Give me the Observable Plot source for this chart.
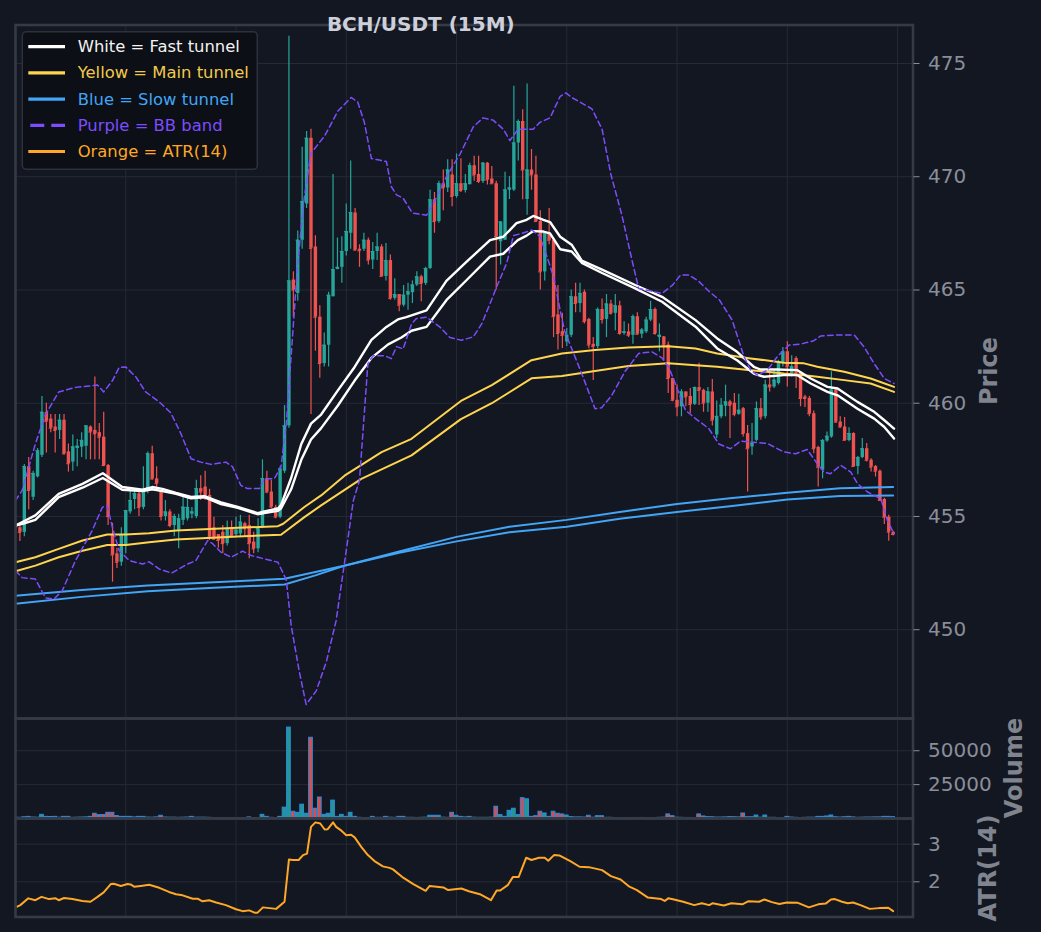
<!DOCTYPE html>
<html><head><meta charset="utf-8">
<script src="https://cdn.jsdelivr.net/npm/d3@7"></script>
<script src="https://cdn.jsdelivr.net/npm/@observablehq/plot@0.6"></script>
<style>
html,body{margin:0;padding:0;background:#131722;}
#wrap{position:relative;width:1041px;height:932px;background:#131722;overflow:hidden;font-family:"DejaVu Sans",sans-serif;}
#wrap svg{position:absolute;left:0;}
</style></head>
<body><div id="wrap"></div>
<script>
// ---------------- DATA ----------------
const open = [
454.6,454.5,454.3,457.2,455.85,456.75,457.7,459.6,459.3,458.95,
458.8,459.25,457.85,457.4,458.0,458.06,458.1,458.95,458.8,458.7,
458.5,457.25,454.2,453.35,452.98,453.7,455.2,455.75,456.0,455.4,
456.15,457.77,456.66,456.1,455.0,455.2,454.6,454.4,454.83,454.9,
455.1,455.0,456.23,456.3,455.93,454.5,454.2,454.3,453.8,454.46,
454.2,454.23,454.68,454.6,453.87,453.57,454.53,456.67,456.08,455.4,
454.97,457.0,459.0,465.44,464.85,467.2,468.8,471.7,466.9,463.8,
461.75,462.56,464.7,465.9,466.0,466.7,467.5,468.4,466.8,466.8,
467.2,466.32,466.7,466.9,465.6,466.3,464.63,464.8,464.33,464.77,
464.88,465.22,465.58,465.29,465.95,468.98,468.02,469.69,469.5,470.08,
469.13,469.69,469.39,469.65,470.48,470.1,469.79,470.6,469.9,469.69,
467.13,467.2,469.4,469.42,471.49,472.44,469.0,470.3,470.08,468.02,
465.8,467.5,467.2,463.9,463.16,462.7,463.0,464.7,464.4,464.9,
463.7,462.6,462.5,464.14,463.7,464.38,463.97,464.3,463.08,463.15,
463.0,463.82,463.05,463.15,463.67,464.14,462.9,462.93,462.57,461.09,
460.13,459.84,460.5,460.3,459.95,460.69,460.57,460.0,460.5,458.6,
459.4,459.87,460.06,460.0,459.51,459.76,458.66,458.07,458.36,459.76,
459.4,460.8,460.72,460.87,461.76,462.27,461.31,461.98,461.31,460.28,
460.21,459.54,458.04,457.04,458.33,458.51,460.58,459.17,458.95,458.36,
458.66,457.21,457.6,457.99,457.48,457.21,457.0,455.75,454.97,454.3
];
const high = [
454.8,454.6,457.3,457.6,457.0,458.0,460.3,460.0,459.5,459.5,
459.5,459.5,458.2,458.6,458.4,458.7,459.0,459.0,461.16,459.1,
459.6,457.3,454.7,453.6,454.5,455.26,456.2,456.2,456.1,457.2,
457.85,458.1,457.2,456.15,455.7,455.3,455.1,455.1,455.86,455.86,
455.4,456.6,456.8,457.0,456.2,454.97,454.2,454.6,454.8,454.8,
454.97,455.05,454.75,455.05,454.3,454.9,457.5,457.0,456.6,455.5,
457.2,459.9,476.2,465.8,467.6,471.3,472.0,472.1,467.4,464.3,
463.1,464.9,470.1,467.3,467.35,468.8,470.7,468.6,467.0,467.5,
467.3,467.1,467.5,467.0,467.05,466.55,465.5,464.8,465.2,465.3,
465.4,465.8,465.65,466.0,469.4,469.3,469.8,470.3,470.75,470.75,
471.0,470.8,470.1,470.6,470.9,470.9,470.63,470.63,470.45,469.8,
468.0,470.2,470.0,474.0,472.5,472.96,474.1,471.2,470.9,468.5,
467.5,468.6,467.3,465.2,463.97,463.3,465.0,465.3,465.3,465.0,
463.75,462.9,464.2,464.6,464.8,464.55,464.8,464.5,463.6,463.5,
463.9,464.0,463.3,463.8,464.5,464.2,463.5,462.95,462.7,461.1,
460.8,460.6,460.5,460.65,460.72,461.76,460.62,460.7,461.05,460.1,
460.21,460.8,460.13,460.43,460.4,459.81,459.02,459.1,460.06,460.21,
461.02,461.31,461.46,461.9,462.46,462.71,462.1,462.05,461.4,460.35,
460.3,459.66,458.1,458.4,458.73,461.39,460.65,459.4,459.37,458.92,
458.7,457.65,458.44,458.22,457.55,457.25,457.05,455.8,455.05,454.35
];
const low = [
454.3,453.9,454.1,455.3,455.7,456.7,457.6,457.8,458.7,457.8,
458.4,457.7,456.96,457.0,457.2,457.6,457.5,457.5,457.5,457.5,
457.2,454.6,452.1,452.7,452.8,453.35,455.1,455.3,455.0,455.3,
456.0,456.6,456.1,454.8,454.8,454.5,454.1,453.57,454.6,454.8,
454.9,454.9,455.7,455.7,453.94,453.94,453.6,453.35,453.7,454.1,
454.1,454.1,454.1,453.13,453.35,453.4,454.46,456.0,455.35,454.9,
454.9,456.9,458.9,463.8,464.5,466.8,468.6,459.5,462.3,461.1,
461.6,461.6,464.7,465.9,465.3,466.5,466.8,466.7,466.0,466.7,
466.1,465.9,466.3,465.6,465.4,464.55,464.55,464.04,464.25,464.1,
464.4,465.15,464.48,465.2,465.9,467.5,467.95,468.5,469.3,468.68,
469.05,469.3,469.28,469.65,469.8,469.7,469.7,469.64,469.7,465.0,
466.1,467.2,469.0,469.35,470.7,468.98,468.3,469.4,468.0,465.0,
465.4,467.0,462.9,462.35,462.42,462.5,462.9,464.0,464.0,463.5,
462.4,461.0,462.4,463.5,462.9,463.9,463.2,463.0,463.0,462.9,
462.6,463.0,462.86,463.08,463.6,463.0,462.27,461.9,460.43,460.06,
459.4,459.4,459.84,459.55,459.9,459.9,459.6,459.6,459.0,458.44,
459.32,459.4,458.44,459.4,459.47,458.51,456.08,457.7,458.3,459.25,
459.3,460.5,460.65,460.8,461.6,460.72,461.16,460.65,459.84,459.81,
459.4,457.77,456.3,456.67,458.28,458.45,459.1,458.9,458.36,458.3,
457.18,456.84,457.55,457.4,456.96,456.74,455.7,454.65,453.91,454.15
];
const close = [
454.5,454.3,457.2,456.15,456.9,457.9,459.6,459.2,458.9,458.8,
459.25,457.77,457.33,458.07,458.1,458.36,459.0,458.73,458.65,458.5,
457.25,455.0,453.3,452.98,454.16,455.26,455.7,456.0,455.4,456.2,
457.77,456.66,456.45,455.0,455.2,454.6,455.0,454.9,455.41,455.4,
455.2,456.23,456.08,455.8,454.09,454.0,453.94,453.8,454.46,454.16,
454.4,454.75,454.46,453.8,453.57,454.46,456.67,456.08,455.42,454.97,
457.1,459.0,465.4,465.0,467.2,468.9,471.7,466.84,463.8,461.75,
462.56,464.77,465.9,466.0,466.7,467.58,468.42,466.77,466.73,467.2,
466.32,466.7,466.9,465.6,466.3,464.63,464.8,464.33,464.77,464.92,
465.22,465.58,465.29,465.95,468.98,468.02,469.69,469.5,470.3,469.13,
469.69,469.39,469.69,470.48,470.08,469.79,470.6,469.86,469.69,467.36,
468.0,469.42,469.5,471.49,472.44,470.3,470.3,470.08,468.02,465.8,
467.5,467.2,463.82,463.08,463.0,463.0,464.7,464.4,464.85,463.6,
462.57,462.5,464.14,463.7,464.38,463.97,464.3,463.08,463.15,463.0,
463.82,463.05,463.23,463.67,464.14,463.08,463.0,462.57,461.09,460.13,
459.84,460.5,460.28,459.95,460.69,460.57,460.0,460.5,459.25,459.42,
459.91,460.06,459.91,459.51,459.69,458.66,457.99,458.22,459.76,459.4,
460.8,460.72,461.02,461.83,462.27,461.61,461.61,461.31,460.21,460.21,
459.54,457.99,457.18,458.36,458.54,460.58,459.17,458.95,458.36,458.66,
457.21,457.6,457.99,457.48,457.18,457.0,455.71,454.97,454.31,454.2
];
const volume = [
600,500,900,1200,700,600,2700,1200,1100,1200,
600,1200,1200,500,600,700,800,1200,3500,2500,
2500,4200,4200,1800,1200,1200,1200,800,1200,1200,
700,600,800,2000,700,600,600,500,600,700,
1200,600,600,600,500,150,100,100,150,100,
100,150,100,800,300,200,2700,1200,500,300,
1200,8000,67100,5000,4200,10200,3500,59600,7200,15500,
2700,3500,13200,1200,2700,1200,4200,1200,500,300,
300,1200,500,500,1200,600,500,1200,1200,500,
500,400,500,600,2000,2000,2000,600,500,4200,
2000,1200,800,1200,600,500,500,500,600,8700,
2500,1200,5700,7200,2500,15000,14200,1200,1700,5000,
3700,1200,5000,3500,3000,2200,1000,800,800,700,
2000,600,1700,1700,500,500,300,100,200,300,
200,300,400,300,300,300,500,600,3000,1700,
600,500,400,400,300,3000,1500,1000,900,700,
700,800,1000,900,800,3700,900,900,2200,600,
2200,500,500,300,300,1200,700,500,300,500,
600,600,1200,1200,1500,2200,900,700,900,1200,
800,500,600,700,700,800,800,1200,1200,1000
];
// indicator lines as [candle index, value] points
const fastUpper = [[0,454.6],[2,454.8],[4.5,455.05],[9.8,456.0],[15.2,456.44],[19.8,456.91],[24.2,456.3],[28.8,456.18],[31,456.3],[33.3,456.22],[36.4,456.04],[39.8,455.86],[42.8,455.9],[46.6,455.62],[50.4,455.42],[54.9,455.15],[56.4,455.22],[59.5,455.35],[60.2,455.5],[62.5,456.7],[64.8,458.2],[67,459.1],[69.3,459.5],[73.1,460.57],[76.9,461.6],[80.7,462.8],[84.1,463.37],[86.7,463.7],[88.6,463.8],[93.2,464.1],[97.7,465.4],[102.3,466.25],[107.6,467.2],[110.6,467.35],[113.6,467.95],[115.9,468.1],[117.4,468.27],[119.7,468.1],[121.2,468.0],[123.5,467.35],[126.1,467.0],[128.4,466.3],[133,465.9],[140.5,465.22],[146.6,464.7],[154.2,463.67],[159.1,462.86],[163.6,462.27],[167.4,461.61],[168.9,461.49],[172.7,461.49],[177.3,461.46],[180.3,461.09],[184.1,460.72],[186.4,460.65],[190.9,460.06],[194.7,459.62],[197,459.25],[199.2,458.88]];
const fastLower = [[0,454.6],[2,454.7],[4.5,454.85],[9.8,455.85],[15.2,456.27],[19.8,456.7],[24.2,456.18],[28.8,456.12],[31,456.2],[33.3,456.12],[36.4,456.0],[39.8,455.8],[42.8,455.85],[46.6,455.55],[50.4,455.38],[54.9,455.1],[56.4,455.15],[59.5,455.25],[60.2,455.35],[62.5,456.2],[64.8,457.5],[67,458.4],[69.3,458.9],[73.1,459.9],[76.9,461.0],[80.7,462.0],[84.5,462.6],[87.5,462.9],[89.8,463.2],[93.2,463.37],[97.7,464.55],[102.3,465.44],[107.6,466.47],[110.6,466.6],[113.9,467.2],[115.9,467.4],[117.4,467.6],[119.7,467.58],[121.2,467.5],[123.5,466.8],[126.1,466.7],[128.4,466.2],[133,465.75],[140.5,465.07],[146.6,464.48],[154.2,463.38],[159.1,462.42],[163.6,461.9],[167.4,461.31],[169.7,461.17],[174.2,461.24],[177.3,461.24],[180.3,460.87],[184.1,460.5],[186.4,460.35],[190.9,459.76],[194.7,459.32],[197,458.95],[199.2,458.44]];
const mainUpper = [[0,452.98],[4.5,453.2],[9.8,453.57],[15.2,453.94],[20.8,454.2],[25,454.2],[30.3,454.26],[36.4,454.38],[50.4,454.5],[59.5,454.57],[60.7,454.68],[65.5,455.42],[69.3,455.93],[74.6,456.8],[83,457.84],[89.8,458.43],[101,460.1],[108,460.8],[117,461.9],[123.9,462.2],[131.4,462.35],[139,462.46],[148,462.52],[154.2,462.42],[159.1,462.2],[166.7,461.98],[174.2,461.79],[178.8,461.76],[181.8,461.61],[187.9,461.39],[193.9,461.09],[199.2,460.72]];
const mainLower = [[0,452.58],[4.5,452.83],[9.8,453.2],[15.2,453.49],[20.8,453.74],[25,453.74],[30.3,453.86],[36.4,453.98],[50.4,454.12],[60.2,454.19],[65.5,454.97],[69.3,455.49],[78.4,456.66],[89.8,457.7],[101,459.3],[108,460.0],[117,461.1],[123.9,461.2],[131.4,461.42],[139,461.64],[148,461.76],[154.2,461.68],[159.1,461.61],[166.7,461.46],[174.2,461.31],[178.8,461.24],[181.8,461.17],[187.9,461.02],[193.9,460.87],[199.2,460.5]];
const slowA = [[0,451.5],[15,451.75],[30,451.95],[45,452.1],[61,452.25],[68,452.55],[75,452.85],[87,453.4],[100,453.9],[112,454.3],[125,454.55],[137,454.9],[150,455.2],[162,455.45],[175,455.75],[187,455.9],[199,455.93]];
const slowB = [[0,451.15],[15,451.45],[30,451.7],[45,451.85],[61,452.0],[68,452.4],[75,452.85],[87,453.45],[100,454.1],[112,454.55],[125,454.85],[137,455.2],[150,455.55],[162,455.8],[175,456.05],[187,456.25],[199,456.3]];
const bbUpper = [[0,455.7],[1.5,456.15],[4.5,458.2],[6.8,459.5],[9.8,460.5],[13.6,460.7],[18.6,460.8],[20,460.5],[22,461.0],[23.5,461.58],[25,461.6],[27.3,461.16],[29.5,460.5],[32.6,460.06],[35.2,459.58],[37.5,458.66],[39.8,457.55],[42,457.4],[44.3,457.3],[47.7,457.4],[49.2,457.2],[51.1,456.37],[52.6,456.23],[55.3,456.23],[56.4,456.67],[58.7,456.67],[60.2,457.2],[61.4,459.1],[62.1,461.0],[64,466.2],[65.5,469.1],[67,471.04],[70.1,471.8],[73.1,472.9],[76.1,473.5],[77.6,473.3],[79.1,472.4],[80.7,470.8],[82.2,470.75],[84.1,470.67],[85.2,469.57],[86.4,469.2],[87.9,469.05],[88.6,468.83],[90,468.4],[93.2,468.3],[95.5,469.1],[97.7,470.0],[100.8,471.0],[103.8,472.2],[106,472.6],[108.3,472.5],[110.6,472.1],[112.1,471.6],[114,472.1],[117.4,472.1],[118.9,472.4],[121.2,472.6],[123.5,473.55],[124.8,473.7],[126.1,473.5],[130.7,473.0],[133,472.1],[135,470.1],[137.5,468.3],[139.8,466.3],[141.3,465.07],[146.6,464.85],[148.9,465.2],[150.8,465.66],[152.7,465.66],[155,465.37],[157.3,464.93],[159.6,464.56],[162.5,463.67],[165.2,462.05],[166.7,461.46],[168.2,461.24],[170.5,461.46],[172.7,462.05],[175.4,462.57],[178,462.61],[181,462.76],[182.6,462.97],[185.6,463.01],[190.2,463.01],[192.4,462.49],[194.7,461.75],[197,461.09],[199.2,460.87]];
const bbLower = [[0,452.6],[1.5,452.3],[4.5,452.24],[6.8,451.4],[8.7,451.35],[10.6,451.72],[13.6,453.05],[17.4,454.38],[19.7,455.41],[20.8,455.48],[22,454.5],[23.5,453.5],[25.8,453.05],[28.8,452.9],[30.3,453.0],[32.6,452.68],[35.4,452.5],[39,452.9],[40.9,453.05],[43.6,453.94],[44.7,453.8],[46.6,453.42],[48.9,453.2],[51.5,453.47],[53.4,453.28],[56.4,453.13],[59.5,452.98],[61.4,452.2],[62.5,450.2],[64.3,448.2],[65.9,446.7],[68.2,447.3],[70.5,448.6],[72.7,450.4],[75,453.5],[76.6,455.7],[78,456.6],[79.9,461.75],[81.1,462.1],[83.7,462.1],[85.2,461.97],[86.4,462.5],[87.9,462.4],[89.8,463.5],[90.9,463.74],[93.2,463.8],[96.2,463.37],[98.5,462.9],[101.1,462.78],[103.8,462.93],[105.7,463.5],[107.6,464.4],[109.1,465.14],[111.4,466.2],[112.9,467.4],[114.8,467.5],[117.1,467.65],[119,467.35],[120.5,466.47],[122,465.6],[123.5,464.1],[124.5,463.2],[128.4,461.3],[131.4,459.76],[132.9,459.8],[135.2,460.35],[138.2,461.4],[141.3,462.2],[144.3,462.27],[146.6,462.0],[148.1,461.6],[149.6,460.87],[151.9,459.69],[154.2,459.32],[157.2,458.88],[159.5,458.2],[162.1,457.99],[164.4,458.33],[170.5,458.22],[174.2,457.85],[176.9,457.77],[179.5,457.96],[181.8,457.33],[183.3,456.96],[184.8,456.89],[187.1,457.26],[189.4,456.96],[190.9,456.45],[193.2,456.08],[196.2,455.78],[197.7,454.82],[199.2,454.23]];
const atr = [[0.4,1.34],[1.1,1.38],[2.9,1.56],[4.5,1.51],[5.9,1.60],[7.6,1.54],[9.1,1.56],[9.8,1.51],[11,1.57],[12.9,1.54],[15.2,1.49],[17,1.47],[18.6,1.60],[20,1.72],[21.6,1.94],[22.3,1.95],[23.9,1.89],[25.4,1.94],[26.1,1.93],[26.9,1.87],[28.4,1.89],[30.3,1.92],[32.6,1.84],[34.8,1.73],[36.4,1.67],[37.9,1.64],[40.2,1.55],[41.3,1.55],[42.4,1.48],[43.9,1.51],[45.5,1.45],[47.7,1.38],[50,1.27],[51.5,1.22],[53,1.24],[54.2,1.18],[54.9,1.18],[56.1,1.32],[57.6,1.30],[59.1,1.28],[61,1.47],[62,2.59],[62.9,2.58],[64.2,2.58],[65.2,2.71],[66.1,2.75],[67,3.46],[68,3.58],[69.1,3.55],[70.1,3.39],[70.8,3.40],[72,3.58],[72.7,3.46],[73.9,3.36],[75,3.24],[76.1,3.25],[76.9,3.18],[78.4,2.93],[79.9,2.71],[81.4,2.55],[83.3,2.41],[84.8,2.37],[85.6,2.33],[87.9,2.11],[90.2,1.94],[93,1.76],[93.9,1.89],[95.5,1.87],[97,1.85],[98.1,1.78],[99.6,1.80],[101.1,1.82],[102.8,1.75],[105.3,1.67],[107.8,1.51],[109.1,1.77],[109.9,1.77],[111.6,1.91],[112.8,2.13],[114.1,2.13],[115.8,2.64],[117,2.58],[118.7,2.64],[120,2.64],[120.8,2.56],[122.1,2.71],[123.3,2.70],[124.6,2.62],[125.8,2.55],[127.9,2.40],[130,2.39],[133,2.31],[135,2.15],[137.2,2.06],[139.2,1.87],[140.9,1.78],[143.4,1.58],[146.4,1.54],[147.2,1.49],[148,1.56],[149.3,1.53],[151.4,1.47],[153.9,1.38],[155.6,1.43],[157.3,1.38],[158.1,1.43],[160.6,1.37],[162.3,1.43],[164.8,1.40],[166.1,1.48],[168.6,1.47],[169.8,1.53],[171.5,1.46],[173.2,1.41],[174.9,1.45],[177.4,1.44],[179.9,1.32],[182,1.40],[183.7,1.42],[184.9,1.53],[185.8,1.54],[187.4,1.47],[188.7,1.43],[189.9,1.45],[191.6,1.38],[193.7,1.28],[195.8,1.30],[197.9,1.31],[199,1.22]];

const xTicks = [0,25,50,75,100,125,150,175,200];
const priceTicks = [450,455,460,465,470,475];
const volumeTicks = [25000,50000];
const atrTicks = [2,3];
const titleText = "BCH/USDT (15M)";
const legendItems = [
  {label:"White = Fast tunnel", color:"#ffffff", text:"#f2f2f2", dash:null},
  {label:"Yellow = Main tunnel", color:"#ffd54f", text:"#f2c94c", dash:null},
  {label:"Blue = Slow tunnel", color:"#42a5f5", text:"#42a5f5", dash:null},
  {label:"Purple = BB band", color:"#7c4dff", text:"#7c4dff", dash:"14,7"},
  {label:"Orange = ATR(14)", color:"#ffa726", text:"#ffa726", dash:null}
];

// ---------------- STYLE ----------------
const W = 1041;
const XL = 15, XR = 912.5;
const xDomain = [0, 203.5];
const GRID = "#262a35", SPINE = "#363a45", TICK = "#8a8e99";
const UP = "#26a69a", DOWN = "#ef5350";
const WHITE = "#ffffff", YELLOW = "#ffd54f", BLUE = "#42a5f5", PURPLE = "#7c4dff", ORANGE = "#ffa726";

const candles = d3.range(open.length).map(i => ({i, o: open[i], h: high[i], l: low[i], c: close[i], v: volume[i], up: close[i] >= open[i]}));
const col = d => d.up ? UP : DOWN;
const px = d => d[0], py = d => d[1];

function panel(top, h, mt, mb, yDomain, ticks, marks, fmt) {
  const svg = Plot.plot({
    width: W, height: h, marginTop: mt, marginBottom: mb, marginLeft: XL, marginRight: W - XR,
    x: {domain: xDomain, axis: null},
    y: {domain: yDomain, axis: null},
    style: {background: "transparent", fontFamily: "DejaVu Sans, sans-serif", overflow: "visible"},
    marks: [
      Plot.gridX(xTicks, {stroke: GRID, strokeOpacity: 1, strokeWidth: 1}),
      Plot.gridY(ticks, {stroke: GRID, strokeOpacity: 1, strokeWidth: 1}),
      ...marks,
      Plot.frame({stroke: SPINE, strokeWidth: 2.6}),
      Plot.axisY(ticks, {anchor: "right", tickSize: 6, tickPadding: 9, fontSize: 20, color: TICK, tickFormat: fmt, label: null})
    ]
  });
  svg.style.top = top + "px";
  document.getElementById("wrap").appendChild(svg);
}

// main price panel
panel(0, 720, 24.5, 2, [446.08, 476.70], priceTicks, [
  Plot.ruleX(candles, {x: "i", y1: "l", y2: "h", stroke: col, strokeWidth: 1.2, clip: true}),
  Plot.ruleX(candles, {x: "i", y1: "o", y2: "c", stroke: col, strokeWidth: 3.4, clip: true}),
  Plot.ruleY(candles, {y: "c", x1: d => d.i - 0.38, x2: d => d.i + 0.38, stroke: col, strokeWidth: 1, clip: true}),
  Plot.line(slowA, {x: px, y: py, stroke: BLUE, strokeWidth: 2, clip: true}),
  Plot.line(slowB, {x: px, y: py, stroke: BLUE, strokeWidth: 2, clip: true}),
  Plot.line(mainUpper, {x: px, y: py, stroke: YELLOW, strokeWidth: 2, clip: true}),
  Plot.line(mainLower, {x: px, y: py, stroke: YELLOW, strokeWidth: 2, clip: true}),
  Plot.line(fastUpper, {x: px, y: py, stroke: WHITE, strokeWidth: 2.4, clip: true}),
  Plot.line(fastLower, {x: px, y: py, stroke: WHITE, strokeWidth: 2.4, clip: true}),
  Plot.line(bbUpper, {x: px, y: py, stroke: PURPLE, strokeWidth: 1.5, strokeDasharray: "5.5,3.5", clip: true}),
  Plot.line(bbLower, {x: px, y: py, stroke: PURPLE, strokeWidth: 1.5, strokeDasharray: "5.5,3.5", clip: true})
], d => String(d));

// volume panel
panel(716, 104, 2, 2, [0, 73800], volumeTicks, [
  Plot.rect(candles, {x1: d => d.i - 0.42, x2: d => d.i + 0.42, y1: () => 0, y2: "v", fill: col, fillOpacity: 0.9, stroke: "#2a8be0", strokeWidth: 1, clip: true})
], d => String(d));

// ATR panel
panel(816, 103, 2, 2.5, [1.064, 3.683], atrTicks, [
  Plot.line(atr, {x: px, y: py, stroke: ORANGE, strokeWidth: 2, clip: true})
], d => String(d));

// ---------------- TEXT OVERLAY ----------------
const ov = d3.select("#wrap").append("svg")
  .attr("width", W).attr("height", 932)
  .style("top", "0px").style("pointer-events", "none")
  .style("font-family", "DejaVu Sans, sans-serif");

ov.append("text").attr("x", 420.8).attr("y", 30.7).attr("text-anchor", "middle")
  .attr("font-size", 20).attr("font-weight", "bold").attr("fill", "#cdd0da").text(titleText);

function vlabel(txt, x, y) {
  ov.append("text").attr("transform", `translate(${x},${y}) rotate(-90)`)
    .attr("text-anchor", "middle").attr("dominant-baseline", "central")
    .attr("font-size", 24).attr("font-weight", "bold").attr("fill", "#80848f").text(txt);
}
vlabel("Price", 989, 371);
vlabel("Volume", 1014, 768);
vlabel("ATR(14)", 988, 868);

const lg = ov.append("g").attr("transform", "translate(22.3,31.7)");
lg.append("rect").attr("width", 235).attr("height", 137.6).attr("rx", 4)
  .attr("fill", "#0c0f15").attr("fill-opacity", 0.95).attr("stroke", "#2c313b").attr("stroke-width", 1.5);
legendItems.forEach((it, k) => {
  const y = 15 + k * 26.2;
  const ln = lg.append("line").attr("x1", 6).attr("x2", 42.7).attr("y1", y).attr("y2", y)
    .attr("stroke", it.color).attr("stroke-width", 3.2);
  if (it.dash) ln.attr("stroke-dasharray", it.dash).attr("x1", 8);
  lg.append("text").attr("x", 55.4).attr("y", y).attr("dominant-baseline", "central")
    .attr("font-size", 16.4).attr("fill", it.text).text(it.label);
});
</script>
</body></html>
